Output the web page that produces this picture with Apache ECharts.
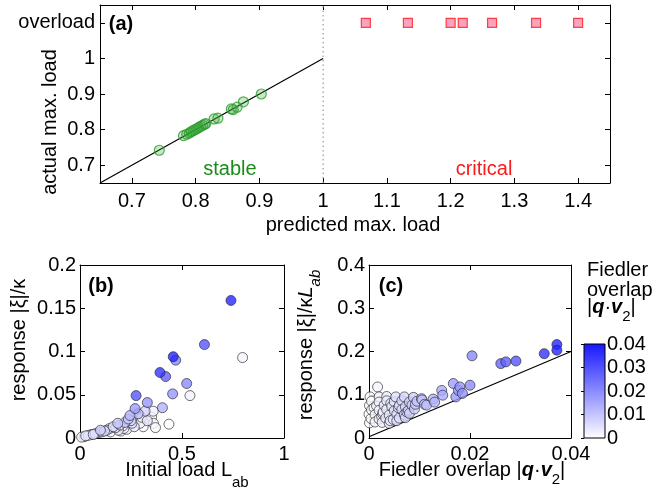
<!DOCTYPE html>
<html><head><meta charset="utf-8">
<script src="https://cdn.jsdelivr.net/npm/echarts@6/dist/echarts.min.js"></script>
<style>html,body{margin:0;padding:0;background:#fff}#c{width:654px;height:494px}</style>
</head><body><div id="c"></div>
<script>
const FONT = 'Liberation Sans';
// ---------- Panel (a) ----------
const stableX = [0.743, 0.781, 0.786, 0.79, 0.793, 0.796, 0.799, 0.802, 0.805, 0.808, 0.811, 0.814, 0.816, 0.829, 0.835, 0.856, 0.859, 0.865, 0.875, 0.903];
const stableY = [0.742, 0.783, 0.787, 0.79, 0.794, 0.797, 0.8, 0.802, 0.806, 0.809, 0.812, 0.815, 0.817, 0.83, 0.832, 0.858, 0.856, 0.863, 0.878, 0.9];
const criticalX = [1.067, 1.133, 1.200, 1.219, 1.265, 1.334, 1.400];
const overloadLevel = 1.1;
const aXTicks = [0.7, 0.8, 0.9, 1, 1.1, 1.2, 1.3, 1.4];
const aXLabels = ['0.7', '0.8', '0.9', '1', '1.1', '1.2', '1.3', '1.4'];
const aYTicks = [0.7, 0.8, 0.9, 1, 1.1];
const aYLabels = ['0.7', '0.8', '0.9', '1', 'overload'];
const diagonalLine = [[0.65, 0.65], [1, 1]];
const dividerLine = [[1, 0.65], [1, 1.15]];
// ---------- Panel (b) ----------
const bLoad = [0.74, 0.61, 0.797, 0.457, 0.469, 0.392, 0.42, 0.523, 0.539, 0.454, 0.275, 0.33, 0.404, 0.27, 0.319, 0.359, 0.245, 0.302, 0.351, 0.294, 0.36, 0.436, 0.31, 0.22, 0.237, 0.196, 0.229, 0.266, 0.163, 0.188, 0.131, 0.106, 0.074, 0.041, 0.008, 0.02, 0.055, 0.09, 0.12, 0.145, 0.15, 0.175, 0.21, 0.2, 0.255, 0.028, 0.065, 0.1, 0.185, 0.285, 0.33, 0.37, 0.25, 0.215];
const bResponse = [0.159, 0.108, 0.093, 0.094, 0.09, 0.0757, 0.071, 0.063, 0.049, 0.051, 0.049, 0.041, 0.035, 0.034, 0.031, 0.031, 0.026, 0.024, 0.024, 0.017, 0.017, 0.016, 0.013, 0.018, 0.022, 0.015, 0.010, 0.013, 0.013, 0.009, 0.009, 0.007, 0.005, 0.003, 0.001, 0.0015, 0.004, 0.006, 0.008, 0.011, 0.007, 0.012, 0.014, 0.008, 0.017, 0.0025, 0.004, 0.009, 0.017, 0.028, 0.02, 0.012, 0.02, 0.011];
const bOverlap = [0.037, 0.029, 0.0017, 0.0372, 0.0204, 0.0347, 0.0271, 0.02, 0.002, 0.018, 0.0291, 0.018, 0.013, 0.017, 0.007, 0.002, 0.012, 0.003, 0.001, 0.002, 0.001, 0.0005, 0.001, 0.009, 0.01, 0.008, 0.002, 0.004, 0.006, 0.004, 0.005, 0.006, 0.004, 0.003, 0.002, 0.001, 0.002, 0.003, 0.007, 0.004, 0.002, 0.005, 0.003, 0.001, 0.006, 0.005, 0.006, 0.008, 0.009, 0.011, 0.004, 0.001, 0.007, 0.002];
const bXTicks = [0, 0.5, 1];
const bXLabels = ['0', '0.5', '1'];
const bYTicks = [0, 0.05, 0.1, 0.15, 0.2];
const bYLabels = ['0', '0.05', '0.1', '0.15', '0.2'];
// ---------- Panel (c) ----------
const cOverlap = [0.0017, 0.0002, 0.002, 0.0035, 0.0053, 0.007, 0.0088, 0.0104, 0.0114, 0.0127, 0.013, 0.0144, 0.0146, 0.0167, 0.0172, 0.0177, 0.018, 0.0185, 0.02, 0.0204, 0.0261, 0.0271, 0.0291, 0.0347, 0.0372, 0.0372,
  0.0005, 0.002, 0.0035, 0.005, 0.0065, 0.008, 0.0095,
  0.0001, 0.0015, 0.003, 0.0045, 0.006, 0.0072, 0.0085, 0.011,
  0.0005, 0.002, 0.0035, 0.005, 0.0065, 0.0078, 0.009,
  0.0, 0.0012, 0.0027, 0.004, 0.0055, 0.007, 0.008,
  0.0004, 0.002, 0.0033, 0.0048, 0.006, 0.0072,
  0.0001, 0.0012, 0.0026, 0.004, 0.0055,
  0.001, 0.0028, 0.0043, 0.0058, 0.0075, 0.0092, 0.0105, 0.0025, 0.0042];
const cResponse = [0.118, 0.095, 0.095, 0.096, 0.095, 0.095, 0.094, 0.091, 0.076, 0.09, 0.083, 0.11, 0.099, 0.126, 0.095, 0.11, 0.118, 0.103, 0.122, 0.19, 0.172, 0.176, 0.178, 0.195, 0.216, 0.203,
  0.085, 0.083, 0.086, 0.084, 0.086, 0.083, 0.085,
  0.075, 0.074, 0.076, 0.073, 0.075, 0.072, 0.076, 0.078,
  0.065, 0.064, 0.066, 0.063, 0.066, 0.064, 0.067,
  0.055, 0.054, 0.056, 0.053, 0.055, 0.054, 0.057,
  0.045, 0.044, 0.046, 0.043, 0.046, 0.047,
  0.035, 0.037, 0.036, 0.034, 0.04,
  0.07, 0.06, 0.08, 0.07, 0.06, 0.078, 0.088, 0.05, 0.04];
const cBoundLine = [[0, 0.003], [0.04, 0.2]];
const cXTicks = [0, 0.02, 0.04];
const cXLabels = ['0', '0.02', '0.04'];
const cYTicks = [0, 0.1, 0.2, 0.3, 0.4];
const cYLabels = ['0', '0.1', '0.2', '0.3', '0.4'];
// ---------- Colour bar ----------
const barTicks = [0, 0.01, 0.02, 0.03, 0.04];
const barLabels = ['0', '0.01', '0.02', '0.03', '0.04'];
const overlapMin = 0, overlapMax = 0.04;
const lowColor = '#ffffff', highColor = '#1616ff';

function fmt(ticks, labels) {
  return v => { const i = ticks.findIndex(t => Math.abs(t - v) < 1e-9); return i >= 0 ? labels[i] : ''; };
}
const lineStyle = { color: '#000', width: 1 };
function xAxes(gi, min, max, ticks, labels, margin) {
  return [
    { gridIndex: gi, type: 'value', min, max, position: 'bottom',
      axisLine: { onZero: false, lineStyle }, splitLine: { show: false },
      axisTick: { inside: true, length: 5, customValues: ticks, lineStyle },
      axisLabel: { customValues: ticks, formatter: fmt(ticks, labels), color: '#000', fontSize: 20, fontFamily: FONT, margin } },
    { gridIndex: gi, type: 'value', min, max, position: 'top',
      axisLine: { onZero: false, lineStyle }, splitLine: { show: false },
      axisTick: { inside: true, length: 5, customValues: ticks, lineStyle },
      axisLabel: { show: false } }
  ];
}
function yAxes(gi, min, max, ticks, labels, margin) {
  return [
    { gridIndex: gi, type: 'value', min, max, position: 'left',
      axisLine: { onZero: false, lineStyle }, splitLine: { show: false },
      axisTick: { inside: true, length: 5, customValues: ticks, lineStyle },
      axisLabel: { customValues: ticks, formatter: fmt(ticks, labels), color: '#000', fontSize: 20, fontFamily: FONT, margin } },
    { gridIndex: gi, type: 'value', min, max, position: 'right',
      axisLine: { onZero: false, lineStyle }, splitLine: { show: false },
      axisTick: { inside: true, length: 5, customValues: ticks, lineStyle },
      axisLabel: { show: false } }
  ];
}

const chart = echarts.init(document.getElementById('c'), null, { renderer: 'canvas' });
const txt = (x, y, text, extra, rot) => ({ type: 'text', x, y, silent: true, rotation: rot || 0,
  style: Object.assign({ text, fill: '#000', font: '20px "' + FONT + '"', align: 'center', verticalAlign: 'middle' }, extra || {}) });

const option = {
  animation: false,
  backgroundColor: '#fff',
  textStyle: { fontFamily: FONT },
  grid: [
    { left: 100, top: 5, width: 510, height: 178 },
    { left: 80, top: 265, width: 204, height: 173 },
    { left: 369, top: 265, width: 202, height: 173 },
    { left: 584, top: 344, width: 21, height: 94, show: true, borderColor: '#000', borderWidth: 1,
      backgroundColor: new echarts.graphic.LinearGradient(0, 0, 0, 1, [{ offset: 0, color: highColor }, { offset: 1, color: lowColor }]) }
  ],
  xAxis: [
    ...xAxes(0, 0.65, 1.45, aXTicks, aXLabels, 8),
    ...xAxes(1, 0, 1, bXTicks, bXLabels, 6),
    ...xAxes(2, 0, 0.04, cXTicks, cXLabels, 6),
    { gridIndex: 3, type: 'value', min: 0, max: 1, show: false }
  ],
  yAxis: [
    ...yAxes(0, 0.65, 1.15, aYTicks, aYLabels, 5),
    ...yAxes(1, 0, 0.2, bYTicks, bYLabels, 4),
    ...yAxes(2, 0, 0.4, cYTicks, cYLabels, 4),
    { gridIndex: 3, type: 'value', min: overlapMin, max: overlapMax, position: 'right',
      axisLine: { show: false }, splitLine: { show: false },
      axisTick: { show: true, inside: true, length: 3, customValues: barTicks, lineStyle },
      axisLabel: { customValues: barTicks, formatter: fmt(barTicks, barLabels), color: '#000', fontSize: 20, fontFamily: FONT, margin: 2 } }
  ],
  visualMap: [
    { type: 'continuous', show: false, min: overlapMin, max: overlapMax, dimension: 2, seriesIndex: 4, inRange: { color: [lowColor, highColor] } },
    { type: 'continuous', show: false, min: overlapMin, max: overlapMax, dimension: 0, seriesIndex: 6, inRange: { color: [lowColor, highColor] } }
  ],
  series: [
    { type: 'line', xAxisIndex: 0, yAxisIndex: 0, data: dividerLine, symbol: 'none', silent: true,
      lineStyle: { color: '#999', width: 1.2, type: [1.5, 3] }, z: 1 },
    { type: 'line', xAxisIndex: 0, yAxisIndex: 0, data: diagonalLine, symbol: 'none', silent: true,
      lineStyle: { color: '#000', width: 1.2 }, z: 2 },
    { type: 'scatter', xAxisIndex: 0, yAxisIndex: 0, symbol: 'circle', symbolSize: 10,
      data: stableX.map((x, i) => [x, stableY[i]]),
      itemStyle: { color: 'rgba(60,170,60,0.35)', borderColor: '#2a9d2a', borderWidth: 1.2 }, z: 3 },
    { type: 'scatter', xAxisIndex: 0, yAxisIndex: 0, symbol: 'rect', symbolSize: 9,
      data: criticalX.map(x => [x, overloadLevel]),
      itemStyle: { color: '#f78cb0', borderColor: '#ff1a1a', borderWidth: 1.2 }, z: 3 },
    { type: 'scatter', xAxisIndex: 2, yAxisIndex: 2, symbol: 'circle', symbolSize: 10,
      data: bLoad.map((x, i) => [x, bResponse[i], bOverlap[i]]).sort((p, q) => p[2] - q[2]),
      itemStyle: { borderColor: '#222', borderWidth: 0.8 }, z: 3 },
    { type: 'line', xAxisIndex: 4, yAxisIndex: 4, data: cBoundLine, symbol: 'none', silent: true,
      lineStyle: { color: '#000', width: 1.2 }, z: 2 },
    { type: 'scatter', xAxisIndex: 4, yAxisIndex: 4, symbol: 'circle', symbolSize: 10,
      data: cOverlap.map((x, i) => [x, cResponse[i]]).sort((p, q) => p[0] - q[0]),
      itemStyle: { borderColor: '#222', borderWidth: 0.8 }, z: 3 }
  ],
  graphic: [
    txt(121, 24, '(a)', { font: 'bold 20px "' + FONT + '"' }),
    txt(101, 286, '(b)', { font: 'bold 20px "' + FONT + '"' }),
    txt(391, 286, '(c)', { font: 'bold 20px "' + FONT + '"' }),
    txt(230, 169, 'stable', { fill: '#1a8c1a' }),
    txt(484, 169, 'critical', { fill: '#ff1a1a' }),
    txt(353, 225, 'predicted max. load'),
    txt(50, 122, 'actual max. load', {}, Math.PI / 2),
    txt(19, 340, 'response |ξ|/κ', {}, Math.PI / 2),
    { type: 'text', x: 187, y: 460, silent: true,
      style: { text: '{m|Initial load L}{s|ab}', fill: '#000', align: 'center', verticalAlign: 'top',
        rich: { m: { fontSize: 20, fontFamily: FONT, lineHeight: 20, verticalAlign: 'top' },
                s: { fontSize: 15, fontFamily: FONT, lineHeight: 46 } } } },
    { type: 'text', x: 296, y: 345, rotation: Math.PI / 2, silent: true,
      style: { text: '{m|response |ξ|/κ}{i|L}{s|ab}', fill: '#000', align: 'center', verticalAlign: 'top',
        rich: { m: { fontSize: 20, fontFamily: FONT, lineHeight: 20, verticalAlign: 'top' },
                i: { fontSize: 20, fontFamily: FONT, fontStyle: 'italic', lineHeight: 20, verticalAlign: 'top' },
                s: { fontSize: 15, fontFamily: FONT, fontStyle: 'italic', lineHeight: 40 } } } },
    { type: 'text', x: 472, y: 460, silent: true,
      style: { text: '{m|Fiedler overlap |}{b|q}{m|·}{b|v}{s|2}{m||}', fill: '#000', align: 'center', verticalAlign: 'top',
        rich: { m: { fontSize: 20, fontFamily: FONT, lineHeight: 20, verticalAlign: 'top' },
                b: { fontSize: 20, fontFamily: FONT, fontStyle: 'italic', fontWeight: 'bold', lineHeight: 20, verticalAlign: 'top' },
                s: { fontSize: 15, fontFamily: FONT, lineHeight: 40 } } } },
    txt(587, 270, 'Fiedler', { align: 'left' }),
    txt(587, 290, 'overlap', { align: 'left' }),
    { type: 'text', x: 587, y: 297, silent: true,
      style: { text: '{m||}{b|q}{m|·}{b|v}{s|2}{m||}', fill: '#000', align: 'left', verticalAlign: 'top',
        rich: { m: { fontSize: 20, fontFamily: FONT, lineHeight: 20, verticalAlign: 'top' },
                b: { fontSize: 20, fontFamily: FONT, fontStyle: 'italic', fontWeight: 'bold', lineHeight: 20, verticalAlign: 'top' },
                s: { fontSize: 15, fontFamily: FONT, lineHeight: 40 } } } }
  ]
};
chart.setOption(option);
</script></body></html>
